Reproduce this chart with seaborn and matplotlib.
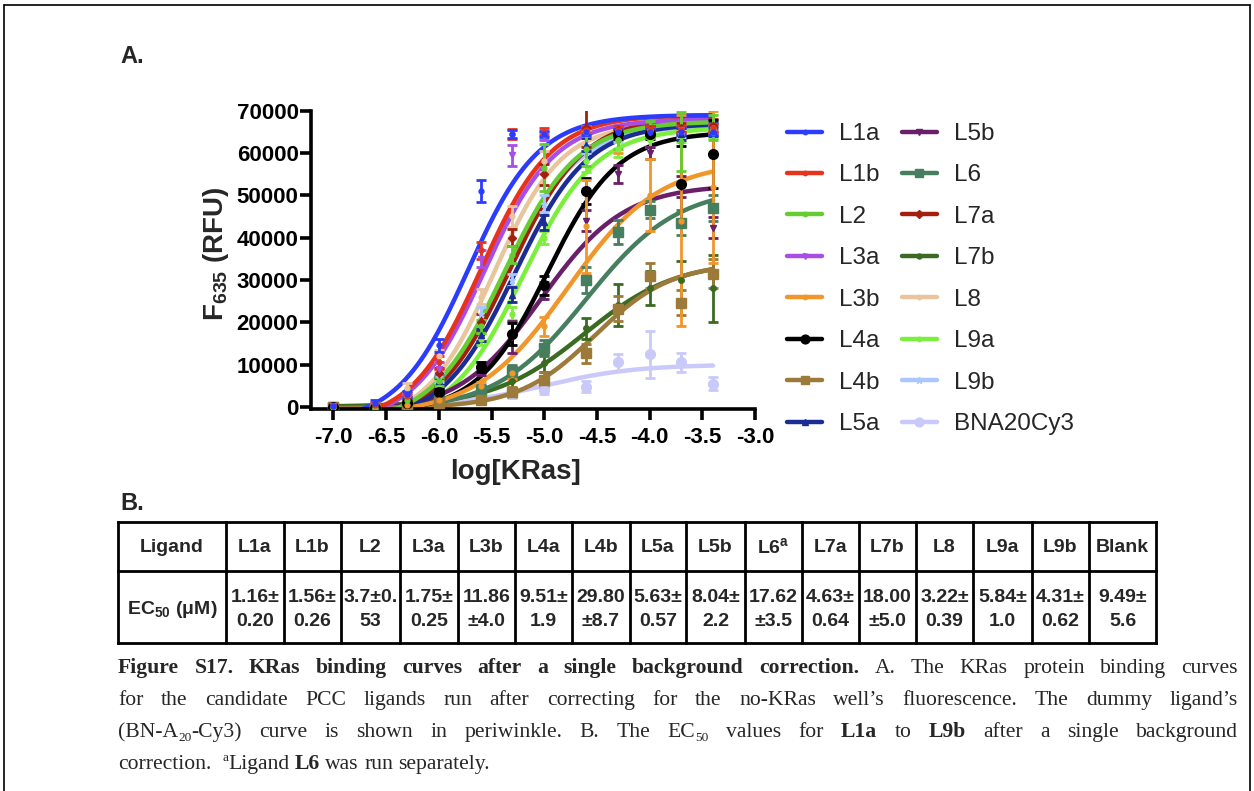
import numpy as np
import pandas as pd
import matplotlib
matplotlib.use('Agg')
import matplotlib.pyplot as plt
import seaborn as sns
from matplotlib.lines import Line2D
from matplotlib.ticker import FormatStrFormatter

# KRas concentrations (uM) of the titration
conc_uM = [0.1, 0.25, 0.5, 1, 2.5, 5, 10, 25, 50, 100, 200, 400]

ligands = ['L1a', 'L1b', 'L2', 'L3a', 'L3b', 'L4a', 'L4b', 'L5a',
           'L5b', 'L6', 'L7a', 'L7b', 'L8', 'L9a', 'L9b', 'BNA20Cy3']
colors = ['#2b3cff', '#e8331c', '#66cc33', '#a84ee6', '#f0962a', '#000000',
          '#9c7a3a', '#1b2d94', '#6a1f6a', '#467f5f', '#a3200f', '#3b6a22',
          '#e9c59d', '#7cee3c', '#a8c8ff', '#c9c9fa']
markers = ['o', 'o', 'o', 'v', 'o', 'o', 's', '^', 'v', 's', 'D', 'o',
           'o', 'o', '*', 'o']
msizes = [3.5, 3.5, 3.5, 4, 3.5, 7, 7, 5, 5, 7, 4, 4, 3.5, 3.5, 5, 7]

# fitted curve parameters
curve_bottom = [-4000, -4000, -4000, -4000, -2000, -1500, -300, -4000,
                -1500, -1000, -4000, 0, -4000, -4000, -4000, 0]
curve_top = [69000, 69000, 67500, 68000, 58000, 65000, 34000, 67000,
             52500, 52000, 68500, 34500, 67000, 66000, 66500, 10000]
curve_logec = [-5.72, -5.60, -5.38, -5.57, -4.78, -4.97, -4.52, -5.28,
               -5.03, -4.60, -5.33, -4.62, -5.48, -5.20, -5.38, -5.0]
curve_slope = [1.3, 1.3, 1.25, 1.3, 1.0, 1.3, 1.2, 1.25,
               1.1, 1.0, 1.25, 1.0, 1.35, 1.25, 1.25, 1.0]

# measured means and errors (RFU)
values = {
    'L1a': [300, 1000, 3000, 14500, 51000, 64500, 64500, 65000, 65000, 65000, 65000, 65000],
    'L1b': [200, 500, 2500, 10500, 37000, 64500, 65000, 65500, 65500, 65500, 65500, 66000],
    'L2': [0, -200, 1500, 6000, 19000, 36000, 56500, 61000, 63000, 65500, 62700, 66000],
    'L3a': [100, 300, 2000, 9000, 35000, 59500, 64000, 65000, 65000, 65000, 65500, 65500],
    'L3b': [0, -500, 500, 1500, 5000, 8000, 19000, 42700, 63000, 50000, 44000, 52000],
    'L4a': [0, -300, 1000, 3500, 9500, 17200, 28700, 51000, 64500, 64500, 52600, 59700],
    'L4b': [0, -200, 200, 800, 1500, 3500, 6450, 12660, 23200, 31000, 24600, 31500],
    'L5a': [0, 0, 1500, 6000, 17000, 26500, 43600, 62000, 65000, 65500, 64500, 65500],
    'L5b': [0, 0, 500, 3500, 9000, 16500, 27500, 44000, 55000, 60000, 52000, 42300],
    'L6': [0, -300, 300, 1500, 4000, 8400, 13900, 30000, 41300, 46600, 43500, 47000],
    'L7a': [0, -200, 1500, 8000, 20000, 40000, 55000, 66000, 65500, 65500, 66000, 66500],
    'L7b': [0, -200, 300, 1000, 3000, 6000, 10300, 18600, 24000, 28000, 30000, 28000],
    'L8': [0, 200, 4500, 12000, 26000, 45000, 58000, 65000, 65500, 65500, 66000, 66000],
    'L9a': [0, -200, 1500, 5500, 16000, 22000, 40000, 58000, 61000, 63000, 64000, 65000],
    'L9b': [0, 500, 2000, 7000, 22000, 30000, 48000, 62000, 64000, 65000, 64500, 65500],
    'BNA20Cy3': [0, 0, 200, 800, 2000, 3000, 4000, 4800, 10500, 12400, 10500, 5500],
}
errors = {
    'L1a': [300, 500, 800, 1500, 2500, 1000, 800, 800, 700, 700, 800, 800],
    'L1b': [300, 500, 800, 1500, 2000, 1200, 800, 800, 800, 800, 800, 800],
    'L2': [300, 300, 600, 1000, 1500, 2000, 5600, 4000, 2000, 2000, 7000, 3000],
    'L3a': [300, 500, 800, 1500, 2000, 2500, 1000, 1000, 1000, 1000, 1000, 1000],
    'L3b': [300, 300, 500, 700, 800, 1500, 2200, 11000, 3000, 8500, 25000, 18000],
    'L4a': [300, 300, 500, 800, 1200, 2500, 2200, 3000, 1200, 1200, 9000, 8000],
    'L4b': [300, 300, 400, 600, 800, 1200, 1800, 2200, 3000, 3000, 3000, 3500],
    'L5a': [300, 300, 800, 1000, 1500, 1800, 1800, 1500, 1000, 1000, 1500, 1500],
    'L5b': [300, 300, 600, 900, 1500, 3800, 2000, 2500, 2200, 1500, 2500, 2500],
    'L6': [300, 300, 500, 800, 1200, 1500, 2000, 3000, 2800, 2000, 3000, 3000],
    'L7a': [300, 400, 800, 1200, 2000, 2000, 2500, 4500, 1000, 1000, 1000, 1500],
    'L7b': [300, 300, 400, 600, 900, 1500, 2000, 2500, 5000, 4000, 4500, 8000],
    'L8': [300, 400, 1200, 1500, 1800, 2500, 2500, 1500, 1000, 1000, 1000, 1000],
    'L9a': [300, 300, 600, 1000, 1500, 1500, 1500, 2500, 2000, 1500, 1500, 1500],
    'L9b': [300, 600, 800, 1200, 1500, 1500, 2000, 2000, 1500, 1000, 1000, 1500],
    'BNA20Cy3': [300, 300, 400, 500, 700, 800, 1000, 1200, 2000, 5500, 2200, 1500],
}

# table B
table_ligands = ['L1a', 'L1b', 'L2', 'L3a', 'L3b', 'L4a', 'L4b', 'L5a', 'L5b',
                 'L6$^{\\mathbf{a}}$', 'L7a', 'L7b', 'L8', 'L9a', 'L9b', 'Blank']
ec50_line1 = ['1.16±', '1.56±', '3.7±0.', '1.75±', '11.86', '9.51±', '29.80', '5.63±',
              '8.04±', '17.62', '4.63±', '18.00', '3.22±', '5.84±', '4.31±', '9.49±']
ec50_line2 = ['0.20', '0.26', '53', '0.25', '±4.0', '1.9', '±8.7', '0.57',
              '2.2', '±3.5', '0.64', '±5.0', '0.39', '1.0', '0.62', '5.6']

caption = [
    [('Figure S17. KRas binding curves after a single background correction.', 'b'),
     (' A. The KRas protein binding curves', 'r')],
    [('for the candidate PCC ligands run after correcting for the no-KRas well\u2019s '
      'fluorescence. The dummy ligand\u2019s', 'r')],
    [('(BN-A', 'r'), ('20', 'sub'), ('-Cy3) curve is shown in periwinkle. B. The EC', 'r'),
     ('50', 'sub'), (' values for ', 'r'), ('L1a', 'b'), (' to ', 'r'), ('L9b', 'b'),
     (' after a single background', 'r')],
    [('correction.  ', 'r'), ('a', 'sup'), ('Ligand ', 'r'), ('L6', 'b'),
     (' was run separately.', 'r')],
]


def hill(x, bottom, top, logec, slope):
    return bottom + (top - bottom) / (1 + 10 ** ((logec - x) * slope))


sns.set_theme(style='ticks')
plt.rcParams['font.family'] = ['Liberation Sans', 'DejaVu Sans']
plt.rcParams['axes.unicode_minus'] = False
plt.rcParams['mathtext.fontset'] = 'custom'
plt.rcParams['mathtext.rm'] = 'Liberation Sans'
plt.rcParams['mathtext.bf'] = 'Liberation Sans:bold'

fig = plt.figure(figsize=(12.54, 7.91), dpi=100)
ov = fig.add_axes([0, 0, 1, 1])
ov.set_xlim(0, 1254)
ov.set_ylim(791, 0)
ov.axis('off')

# outer frame
ov.plot([4, 4], [5, 791], color='black', lw=1.2, clip_on=False)
ov.plot([4, 1250], [5, 5], color='black', lw=1.2, clip_on=False)
ov.plot([1250, 1250], [5, 791], color='black', lw=1.2, clip_on=False)

ax = fig.add_axes([311 / 1254, (791 - 408.5) / 791, 444 / 1254, 297.8 / 791])

logx = np.log10(np.array(conc_uM) * 1e-6)
grid = np.linspace(logx.min(), logx.max(), 300)
rows = []
for i, lig in enumerate(ligands):
    yv = hill(grid, curve_bottom[i], curve_top[i], curve_logec[i], curve_slope[i])
    rows.append(pd.DataFrame({'logc': grid, 'F': yv, 'ligand': lig}))
curve_df = pd.concat(rows, ignore_index=True)

order = ligands[::-1]
pal = dict(zip(ligands, colors))
sns.lineplot(data=curve_df, x='logc', y='F', hue='ligand', hue_order=order,
             palette=pal, linewidth=3.2, legend=False, ax=ax, estimator=None,
             sort=False, zorder=2)

for lig in order:
    i = ligands.index(lig)
    ax.errorbar(logx, values[lig], yerr=errors[lig], fmt=markers[i], color=colors[i],
                ms=msizes[i], elinewidth=2, capsize=3.6, capthick=2, zorder=3)

ax.set_xlim(-7.213, -3.0)
ax.set_ylim(-400, 70000)
ax.set_xticks(np.arange(-7.0, -2.99, 0.5))
ax.set_yticks(np.arange(0, 70001, 10000))
ax.xaxis.set_major_formatter(FormatStrFormatter('%.1f'))
sns.despine(ax=ax)
for s in ['left', 'bottom']:
    ax.spines[s].set_linewidth(2.6)
    ax.spines[s].set_color('black')
ax.tick_params(axis='both', direction='out', length=8, width=2.6, labelsize=16,
               colors='black')
ax.tick_params(axis='y', pad=1)
ax.tick_params(axis='x', pad=5)
for lab in ax.get_xticklabels() + ax.get_yticklabels():
    lab.set_fontweight('bold')
ax.set_xlabel('log[KRas]', fontsize=20, fontweight='bold')
ax.set_ylabel(r'$\mathbf{F}_{\mathbf{635}}$ (RFU)', fontsize=20, fontweight='bold')
ax.xaxis.set_label_coords(0.46, -0.168)
ax.yaxis.set_label_coords(-0.18, 0.52)
ax.set_facecolor('white')

handles = [Line2D([], [], color=colors[i], lw=3.2, marker=markers[i],
                  ms=msizes[i] * 0.9) for i in range(len(ligands))]
fig.legend(handles, ligands, ncol=2, loc='upper left',
           bbox_to_anchor=(787 / 1254, 1 - 123 / 791), frameon=False,
           fontsize=17.5, handlelength=1.45, handletextpad=0.7,
           columnspacing=0.9, labelspacing=0.80, borderaxespad=0, borderpad=0)

# panel letters
ov.text(120, 63, 'A.', fontsize=17, fontweight='bold', va='baseline')
ov.text(120, 510, 'B.', fontsize=17, fontweight='bold', va='baseline')

# table
col_edges = [118, 226, 284, 341, 400, 458, 515, 572, 630, 686, 745, 802, 859,
             916, 973, 1032, 1089, 1156]
row_edges = [522, 571, 643]
for xe in col_edges:
    ov.plot([xe, xe], [row_edges[0], row_edges[-1]], color='black', lw=2.0,
            solid_capstyle='projecting')
for ye in row_edges:
    ov.plot([col_edges[0], col_edges[-1]], [ye, ye], color='black', lw=2.0,
            solid_capstyle='projecting')
ov.text((col_edges[0] + col_edges[1]) / 2, 548, 'Ligand', ha='center', va='center',
        fontsize=14, fontweight='bold')
ov.text((col_edges[0] + col_edges[1]) / 2, 609, r'EC$_{\mathbf{50}}$ (μM)',
        ha='center', va='center', fontsize=14, fontweight='bold')
for j, lab in enumerate(table_ligands):
    cx = (col_edges[j + 1] + col_edges[j + 2]) / 2
    ov.text(cx, 548, lab, ha='center', va='center', fontsize=14, fontweight='bold')
    ov.text(cx, 597, ec50_line1[j], ha='center', va='center', fontsize=14,
            fontweight='bold')
    ov.text(cx, 621, ec50_line2[j], ha='center', va='center', fontsize=14,
            fontweight='bold')

# caption, justified word by word
renderer = fig.canvas.get_renderer()
FS = 15.6
seg_kw = {
    'r': dict(fontsize=FS, family='Liberation Serif'),
    'b': dict(fontsize=FS, family='Liberation Serif', fontweight='bold'),
    'sub': dict(fontsize=FS * 0.62, family='Liberation Serif'),
    'sup': dict(fontsize=FS * 0.62, family='Liberation Serif'),
}
seg_dy = {'r': 0, 'b': 0, 'sub': 4, 'sup': -8}


def layout_line(runs, y, x0, x1, justify):
    words = [[]]
    for txt, sty in runs:
        parts = txt.split(' ')
        for k, p in enumerate(parts):
            if k > 0:
                words.append([])
            if p:
                words[-1].append((p, sty))
    while words and not words[0]:
        words.pop(0)
    while words and not words[-1]:
        words.pop()
    placed = []
    for w in words:
        segs = []
        for p, sty in w:
            t = ov.text(0, y, p, ha='left', va='baseline', **seg_kw[sty])
            segs.append((t, t.get_window_extent(renderer).width, sty))
        placed.append(segs)
    total = sum(wd for segs in placed for _, wd, _ in segs)
    gap = (x1 - x0 - total) / (len(placed) - 1) if justify else FS * 100 / 72 * 0.25
    x = x0
    for segs in placed:
        for t, wd, sty in segs:
            t.set_position((x, y + seg_dy[sty]))
            x += wd
        x += gap


for k, runs in enumerate(caption):
    layout_line(runs, 673 + 32 * k, 118, 1238, k < len(caption) - 1)

fig.savefig('out.png', dpi=100, facecolor='white')
